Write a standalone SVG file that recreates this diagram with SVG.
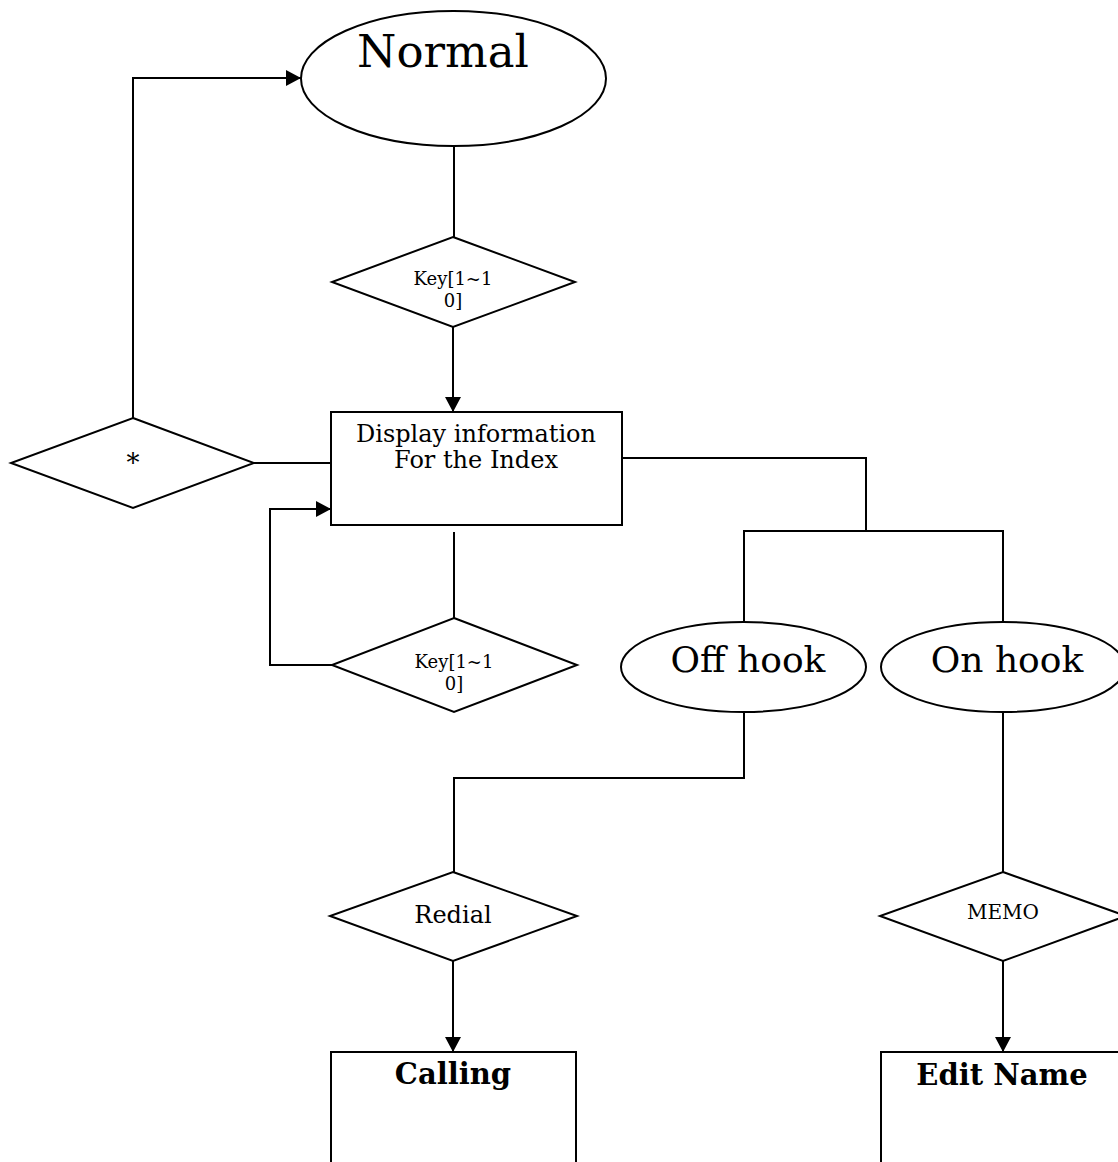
<svg xmlns="http://www.w3.org/2000/svg" width="1118" height="1162" viewBox="0 0 1118 1162">
<style>
.s{fill:#fff;stroke:#000;stroke-width:2}
.c{fill:none;stroke:#000;stroke-width:2}
text{font-family:"DejaVu Serif","Liberation Serif",serif;fill:#000;text-anchor:middle}
.b{font-weight:bold;font-size:29px}
</style>
<defs>
<marker id="ar" viewBox="0 0 15 16" refX="15" refY="8" markerWidth="15" markerHeight="16" markerUnits="userSpaceOnUse" orient="auto">
<path d="M0,0 L15,8 L0,16 Z" fill="#000"/>
</marker>
</defs>
<rect width="1118" height="1162" fill="#fff"/>
<g id="connectors">
<path class="c" d="M454,146 V237"/>
<path class="c" d="M453,327 V412" marker-end="url(#ar)"/>
<path class="c" d="M254,463 H331"/>
<path class="c" d="M133,418 V78 H301" marker-end="url(#ar)"/>
<path class="c" d="M454,532 V618"/>
<path class="c" d="M332,665 H270 V509 H331" marker-end="url(#ar)"/>
<path class="c" d="M622,458 H866 V531"/>
<path class="c" d="M744,622 V531 H1003 V622"/>
<path class="c" d="M744,712 V778 H454 V872"/>
<path class="c" d="M453,961 V1052" marker-end="url(#ar)"/>
<path class="c" d="M1003,712 V872"/>
<path class="c" d="M1003,961 V1052" marker-end="url(#ar)"/>
</g>
<g id="normal">
<ellipse class="s" cx="453.5" cy="78.5" rx="152.5" ry="67.5"/>
<text x="443" y="67" font-size="45">Normal</text>
</g>
<g id="key1">
<polygon class="s" points="453,237 575,282 453,327 332,282"/>
<text x="453" y="285" font-size="18">Key[1~1</text>
<text x="453" y="307" font-size="18">0]</text>
</g>
<g id="display">
<rect class="s" x="331" y="412" width="291" height="113"/>
<text x="476" y="442" font-size="24">Display information</text>
<text x="476" y="468" font-size="24">For the Index</text>
</g>
<g id="star">
<polygon class="s" points="133,418 254,463 133,508 11,463"/>
<text x="133" y="472" font-size="26">*</text>
</g>
<g id="key2">
<polygon class="s" points="454,618 577,665 454,712 332,665"/>
<text x="454" y="668" font-size="18">Key[1~1</text>
<text x="454" y="690" font-size="18">0]</text>
</g>
<g id="offhook">
<ellipse class="s" cx="743.5" cy="667" rx="122.5" ry="45"/>
<text x="748" y="672" font-size="36">Off hook</text>
</g>
<g id="onhook">
<ellipse class="s" cx="1003" cy="667" rx="122" ry="45"/>
<text x="1007" y="672" font-size="36">On hook</text>
</g>
<g id="redial">
<polygon class="s" points="453,872 577,916 453,961 330,916"/>
<text x="453" y="923" font-size="24">Redial</text>
</g>
<g id="memo">
<polygon class="s" points="1003,872 1126,916 1003,961 880,916"/>
<text x="1003" y="919" font-size="20">MEMO</text>
</g>
<g id="calling">
<rect class="s" x="331" y="1052" width="245" height="130"/>
<text class="b" x="453" y="1084">Calling</text>
</g>
<g id="editname">
<rect class="s" x="881" y="1052" width="245" height="130"/>
<text class="b" x="1002" y="1085">Edit Name</text>
</g>
</svg>
